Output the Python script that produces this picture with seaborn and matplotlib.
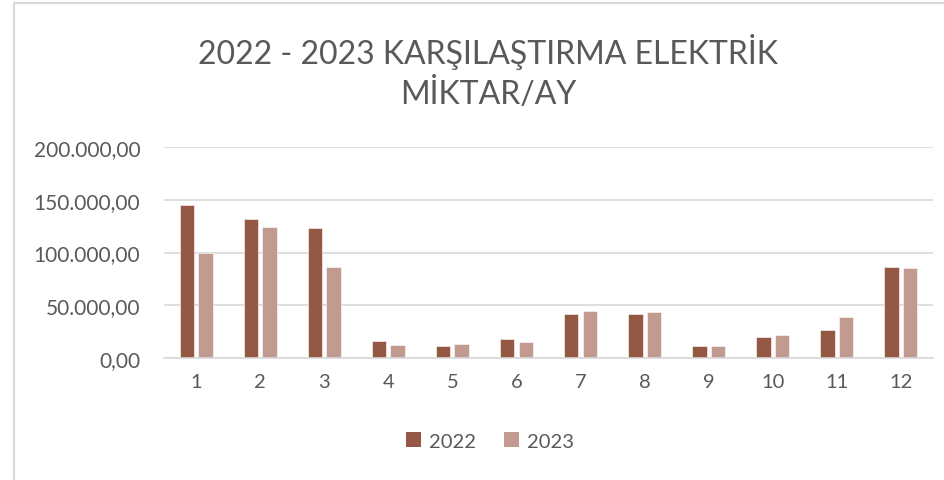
"""2022 - 2023 electricity comparison bar chart."""

import matplotlib

matplotlib.use("Agg")
import matplotlib.pyplot as plt
import pandas as pd
import seaborn as sns
from matplotlib.lines import Line2D
from matplotlib.patches import Patch
from matplotlib.ticker import FuncFormatter

months = ["1", "2", "3", "4", "5", "6", "7", "8", "9", "10", "11", "12"]
values_2022 = [145000, 132000, 123500, 15800, 11600, 17800, 42000, 41700, 11400, 19500, 26800, 86100]
values_2023 = [99100, 124500, 86500, 12000, 13400, 14900, 44600, 43600, 11400, 21400, 39200, 85500]
years = ["2022", "2023"]
colors = ["#955845", "#C29A8F"]
text_color = "#595959"
grid_color = "#D9D9D9"

frame = pd.DataFrame(
    {
        "ay": months * 2,
        "miktar": values_2022 + values_2023,
        "yil": [years[0]] * len(months) + [years[1]] * len(months),
    }
)

sns.set_style("white")
plt.rcParams["font.family"] = ["Lato", "DejaVu Sans"]

fig = plt.figure(figsize=(9.45, 4.81), dpi=100)
ax = fig.add_axes([164 / 945, 1 - 359 / 481, 769 / 945, 211 / 481])

sns.barplot(
    data=frame,
    x="ay",
    y="miktar",
    hue="yil",
    palette=colors,
    width=0.58,
    gap=0.22,
    saturation=1,
    edgecolor="white",
    linewidth=0.4,
    legend=False,
    ax=ax,
)

ax.set_ylim(0, 200000)
ax.set_xlim(-0.5, 11.5)
ax.set_yticks(range(0, 200001, 50000))
ax.yaxis.set_major_formatter(
    FuncFormatter(lambda v, _: f"{v:,.2f}".replace(",", "X").replace(".", ",").replace("X", "."))
)
ax.grid(axis="y", color=grid_color, linewidth=1.2)
ax.set_axisbelow(True)
for side in ["top", "right", "left"]:
    ax.spines[side].set_visible(False)
ax.spines["bottom"].set_color(grid_color)
ax.spines["bottom"].set_linewidth(1.2)
ax.tick_params(axis="y", length=0, pad=17, labelsize=15, labelcolor=text_color)
ax.tick_params(axis="x", length=0, pad=11, labelsize=14.5, labelcolor=text_color)
ax.set_xlabel("")
ax.set_ylabel("")

fig.text(
    488 / 945,
    1 - 72 / 481,
    "2022 - 2023 KARŞILAŞTIRMA ELEKTRİK\nMİKTAR/AY",
    ha="center",
    va="center",
    fontsize=23,
    color=text_color,
    linespacing=1.3,
)

handles = [Patch(facecolor=c, edgecolor="none") for c in colors]
fig.legend(
    handles,
    years,
    loc="center",
    bbox_to_anchor=(490 / 945, 1 - 442 / 481),
    ncol=2,
    frameon=False,
    fontsize=14.5,
    labelcolor=text_color,
    handlelength=0.75,
    handleheight=0.75,
    handletextpad=0.4,
    columnspacing=1.4,
)

# chart area border (left and top edges visible in the reference)
fig.add_artist(Line2D([14 / 945, 14 / 945], [0, 1 - 4 / 481], color=grid_color, linewidth=1.5, transform=fig.transFigure))
fig.add_artist(Line2D([14 / 945, 1], [1 - 4 / 481, 1 - 4 / 481], color=grid_color, linewidth=1.5, transform=fig.transFigure))

fig.savefig("out.png", dpi=100)
plt.close(fig)
